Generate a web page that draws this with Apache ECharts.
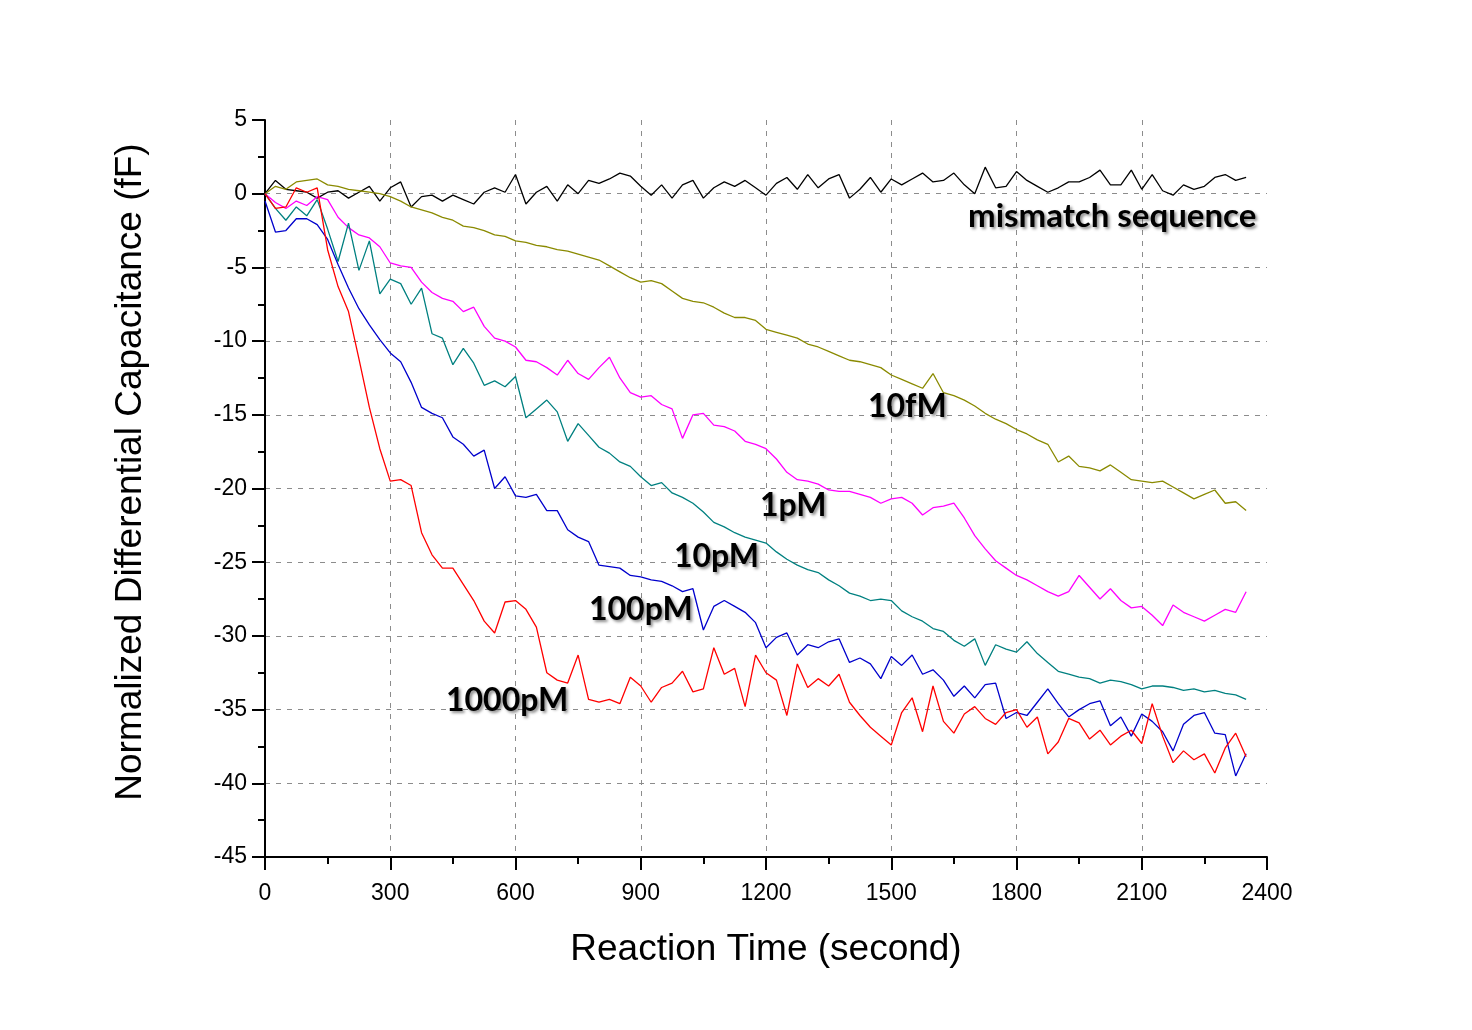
<!DOCTYPE html>
<html>
<head>
<meta charset="utf-8">
<script src="https://cdn.jsdelivr.net/npm/echarts@6/dist/echarts.min.js"></script>
<style>
html,body{margin:0;padding:0;background:#fff;}
#chart{width:1472px;height:1030px;}
</style>
</head>
<body>
<div id="chart"></div>
<script>
// Reaction time (s), sampled every 25 s
const times = [];
for (let t = 0; t <= 2350; t += 25) times.push(t);

const mismatch = [0.0,0.9,0.3,0.2,0.1,-0.3,0.1,0.2,-0.3,0.1,0.5,-0.5,0.4,0.8,-0.9,-0.2,-0.1,-0.5,-0.1,-0.4,
-0.7,0.1,0.4,0.1,1.3,-0.7,0.1,0.5,-0.5,0.6,0.0,0.9,0.7,1.0,1.4,1.2,0.5,-0.1,0.6,-0.3,
0.6,0.9,-0.3,0.4,0.8,0.5,0.9,0.4,-0.1,0.7,1.1,0.3,1.3,0.4,1.0,1.3,-0.3,0.3,1.1,0.1,
1.0,0.6,1.0,1.4,0.8,0.9,1.4,0.6,0.0,1.8,0.4,0.5,1.5,0.9,0.5,0.1,0.4,0.8,0.8,1.1,
1.6,0.6,0.6,1.6,0.3,1.3,0.2,-0.1,0.6,0.3,0.5,1.1,1.3,0.9,1.1];

const fM10 = [0.0,0.5,0.3,0.8,0.9,1.0,0.6,0.5,0.3,0.2,0.1,0.0,-0.2,-0.5,-0.9,-1.1,-1.3,-1.6,-1.8,-2.2,
-2.3,-2.5,-2.8,-2.9,-3.2,-3.3,-3.5,-3.6,-3.8,-3.9,-4.1,-4.3,-4.5,-4.9,-5.3,-5.7,-6.0,-5.9,-6.1,-6.6,
-7.1,-7.3,-7.4,-7.7,-8.1,-8.4,-8.4,-8.6,-9.2,-9.4,-9.6,-9.8,-10.2,-10.4,-10.7,-11.0,-11.3,-11.4,-11.6,-11.8,
-12.3,-12.6,-12.9,-13.2,-12.2,-13.5,-13.7,-14.0,-14.4,-14.9,-15.3,-15.6,-16.0,-16.3,-16.7,-17.0,-18.2,-17.8,-18.5,-18.6,
-18.8,-18.4,-18.9,-19.4,-19.5,-19.6,-19.5,-19.9,-20.3,-20.7,-20.4,-20.1,-21.0,-20.9,-21.5];

const pM1 = [0.0,-0.6,-1.0,-0.5,-0.8,-0.2,-0.4,-1.6,-2.3,-2.8,-3.0,-3.6,-4.7,-4.9,-5.0,-6.0,-6.7,-7.1,-7.3,-8.0,
-7.7,-9.0,-9.8,-10.0,-10.4,-11.3,-11.4,-11.8,-12.3,-11.3,-12.2,-12.6,-11.8,-11.1,-12.5,-13.5,-13.8,-13.7,-14.3,-14.6,
-16.6,-15.0,-14.9,-15.7,-15.8,-16.1,-16.8,-17.0,-17.3,-18.0,-18.9,-19.4,-19.5,-19.7,-20.1,-20.2,-20.2,-20.4,-20.6,-21.0,
-20.7,-20.6,-21.0,-21.8,-21.3,-21.2,-21.0,-22.0,-23.2,-24.1,-24.9,-25.4,-25.9,-26.2,-26.6,-27.0,-27.3,-27.0,-25.9,-26.7,
-27.5,-26.8,-27.6,-28.1,-28.0,-28.6,-29.3,-27.9,-28.4,-28.7,-29.0,-28.6,-28.2,-28.4,-27.0];

const pM10 = [0.0,-1.0,-1.8,-0.9,-1.5,-0.4,-2.4,-4.6,-2.0,-5.2,-3.2,-6.8,-5.8,-6.1,-7.5,-6.4,-9.5,-9.8,-11.6,-10.5,
-11.5,-13.0,-12.7,-13.1,-12.4,-15.2,-14.6,-14.0,-14.8,-16.8,-15.6,-16.4,-17.2,-17.6,-18.2,-18.5,-19.2,-19.8,-19.6,-20.3,
-20.6,-21.0,-21.6,-22.3,-22.6,-23.0,-23.3,-23.5,-23.7,-24.3,-24.8,-25.2,-25.5,-25.7,-26.2,-26.6,-27.1,-27.3,-27.6,-27.5,
-27.6,-28.3,-28.7,-29.0,-29.5,-29.7,-30.3,-30.7,-30.2,-32.0,-30.6,-30.9,-31.1,-30.4,-31.2,-31.8,-32.4,-32.6,-32.8,-32.9,
-33.2,-33.0,-33.1,-33.3,-33.6,-33.4,-33.4,-33.5,-33.7,-33.6,-33.8,-33.7,-33.9,-34.0,-34.3];

const pM100 = [-0.5,-2.6,-2.5,-1.7,-1.7,-2.1,-3.1,-4.8,-6.4,-7.8,-8.9,-9.9,-10.8,-11.4,-12.8,-14.5,-14.9,-15.2,-16.5,-17.0,
-17.8,-17.4,-20.0,-19.2,-20.5,-20.6,-20.4,-21.5,-21.5,-22.8,-23.3,-23.6,-25.2,-25.3,-25.4,-25.9,-26.0,-26.2,-26.3,-26.6,
-27.0,-26.8,-29.6,-28.0,-27.6,-28.0,-28.4,-29.1,-30.8,-30.1,-29.8,-31.3,-30.6,-30.8,-30.4,-30.2,-31.8,-31.5,-31.9,-32.9,
-31.4,-32.0,-31.3,-32.6,-32.3,-33.0,-34.1,-33.4,-34.2,-33.3,-33.2,-35.6,-35.2,-35.4,-34.5,-33.6,-34.6,-35.5,-35.0,-34.6,
-34.4,-36.1,-35.5,-36.8,-35.3,-35.8,-36.5,-37.8,-36.0,-35.4,-35.2,-36.6,-36.7,-39.5,-38.0];

const pM1000 = [0.0,-1.0,-0.9,0.4,0.1,0.4,-3.8,-6.3,-8.0,-11.2,-14.5,-17.3,-19.5,-19.4,-19.8,-23.0,-24.5,-25.4,-25.4,-26.5,
-27.6,-29.0,-29.8,-27.7,-27.6,-28.2,-29.4,-32.5,-33.0,-33.2,-31.3,-34.3,-34.5,-34.3,-34.6,-32.8,-33.4,-34.5,-33.5,-33.2,
-32.4,-33.8,-33.6,-30.8,-32.6,-32.2,-34.8,-31.3,-32.5,-33.0,-35.4,-31.9,-33.5,-32.9,-33.4,-32.6,-34.5,-35.4,-36.2,-36.8,
-37.4,-35.2,-34.2,-36.5,-33.4,-35.8,-36.6,-35.3,-34.8,-35.6,-36.0,-35.2,-35.0,-36.2,-35.5,-38.0,-37.2,-35.6,-35.9,-37.0,
-36.4,-37.4,-36.8,-36.4,-37.3,-34.6,-36.8,-38.6,-37.8,-38.4,-38.0,-39.3,-37.6,-36.6,-38.2];

const seriesNames = ['mismatch sequence','10fM','1pM','10pM','100pM','1000pM'];
const seriesValues = [mismatch, fM10, pM1, pM10, pM100, pM1000];
const seriesColors = ['#000000','#8a8a00','#ff00ff','#008080','#0000cc','#ff0000'];

const xTicks = {min:0, max:2400, interval:300};
const yTicks = {min:-45, max:5, interval:5};

const chart = echarts.init(document.getElementById('chart'), null, {renderer:'canvas'});

const labelFont = '"Liberation Sans", Arial, sans-serif';
const annoStyle = {
  fontFamily: 'Lato, "Open Sans", sans-serif',
  fontWeight: 'bold',
  fontSize: 32,
  fill: '#000',
  textShadowColor: 'rgba(0,0,0,0.45)',
  textShadowBlur: 3,
  textShadowOffsetX: 2,
  textShadowOffsetY: 2
};
function anno(text, x, y, size) {
  const st = Object.assign({text:text}, annoStyle);
  if (size) st.fontSize = size;
  return {type:'text', left:x, top:y, z:100, style: st};
}

const axisCommon = {
  axisLine:{show:true, onZero:false, lineStyle:{color:'#000', width:2}},
  axisTick:{show:true, inside:false, length:13, lineStyle:{color:'#000', width:2}},
  minorTick:{show:true, splitNumber:2, length:7, lineStyle:{color:'#000', width:2}},
  splitLine:{show:true, showMinLine:false, showMaxLine:false,
    lineStyle:{color:'#8c8c8c', width:1, type:[5,6]}},
  nameTextStyle:{fontFamily:labelFont, fontSize:37, color:'#000'}
};

chart.setOption({
  animation:false,
  backgroundColor:'#fff',
  grid:{left:265, right:205, top:120, bottom:173, containLabel:false},
  xAxis: Object.assign({}, axisCommon, {
    type:'value', min:xTicks.min, max:xTicks.max, interval:xTicks.interval,
    name:'Reaction Time (second)', nameLocation:'middle', nameGap:74,
    axisLabel:{fontFamily:labelFont, fontSize:23, color:'#000', margin:25,
      formatter:(v)=>String(v)}
  }),
  yAxis: Object.assign({}, axisCommon, {
    type:'value', min:yTicks.min, max:yTicks.max, interval:yTicks.interval,
    axisLabel:{fontFamily:labelFont, fontSize:23, color:'#000', margin:18,
      formatter:(v)=>String(v)}
  }),
  series: seriesNames.map((n,i)=>({
    name:n, type:'line', showSymbol:false, symbol:'none',
    lineStyle:{color:seriesColors[i], width:1.3},
    data: times.map((t,k)=>[t, seriesValues[i][k]])
  })),
  graphic:[
    {type:'text', x:131, y:472, rotation:Math.PI/2, z:100,
      style:{text:'Normalized Differential Capacitance (fF)', fontFamily:labelFont,
        fontSize:37, fill:'#000', align:'center', verticalAlign:'middle'}},
    anno('mismatch sequence', 968, 200, 33),
    anno('10fM', 868, 391),
    anno('1pM', 760, 490),
    anno('10pM', 674, 541),
    anno('100pM', 589, 594),
    anno('1000pM', 446, 685)
  ]
});
</script>
</body>
</html>
